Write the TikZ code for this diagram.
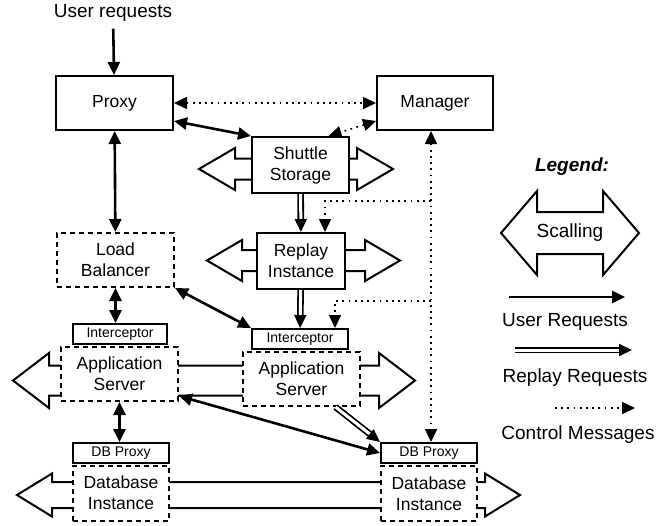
\documentclass[tikz,border=0pt]{standalone}
\usepackage{fontspec}
\setmainfont{Liberation Sans}
\usetikzlibrary{arrows.meta}
% scaling double arrow: left tip, right tip, centre y, head length, half shaft, half head
\newcommand{\scalearrow}[6]{%
  \draw[scaling] (#1,#3) -- ({#1+#4},{#3-#6}) -- ({#1+#4},{#3-#5})
    -- ({#2-#4},{#3-#5}) -- ({#2-#4},{#3-#6}) -- (#2,#3)
    -- ({#2-#4},{#3+#6}) -- ({#2-#4},{#3+#5}) -- ({#1+#4},{#3+#5})
    -- ({#1+#4},{#3+#6}) -- cycle;}
\begin{document}
\begin{tikzpicture}[x=0.5pt,y=-0.5pt,
    >={Triangle[length=6.5pt,width=6pt]},
    every node/.style={font=\fontsize{8.75}{10.5}\selectfont},
    box/.style={draw, fill=white, line width=1pt, inner sep=0pt, align=center},
    dbox/.style={box, dash pattern=on 2.5pt off 2pt},
    small/.style={box, minimum height=10pt, font=\fontsize{7}{8}\selectfont},
    legtxt/.style={font=\fontsize{9.5}{11}\selectfont},
    scaling/.style={draw, fill=white, line width=1pt, line join=miter},
    reqline/.style={line width=1.3pt},
    repline/.style={double, double distance=1.5pt, line width=0.9pt},
    ctrlline/.style={line width=0.8pt, dash pattern=on 0.9pt off 2.2pt}]
  \useasboundingbox (0,0) rectangle (672,525);
  % scaling arrows behind the boxes
  \scalearrow{199}{393}{169}{36}{10.5}{21}
  \scalearrow{207}{400}{260.5}{35}{10.5}{20.5}
  \scalearrow{13}{415}{380.5}{36}{15}{27.5}
  \scalearrow{17}{520}{495}{35}{13}{21.5}
  \scalearrow{501}{639}{233}{36}{21}{42}
  % components
  \node[legtxt] (user) at (113,13) {User requests};
  \node[box, minimum width=58.5pt, minimum height=27pt] (proxy) at (114.5,103) {Proxy};
  \node[box, minimum width=58pt, minimum height=27pt] (manager) at (435,103) {Manager};
  \node[box, minimum width=48.5pt, minimum height=28pt] (shuttle) at (300.5,165) {Shuttle\\Storage};
  \node[box, minimum width=44pt, minimum height=28pt] (replay) at (301,261) {Replay\\Instance};
  \node[dbox, minimum width=58.5pt, minimum height=27pt] (lb) at (115.5,260) {Load\\Balancer};
  \node[small, minimum width=47pt] (icpl) at (120,334) {Interceptor};
  \node[small, minimum width=48pt] (icpr) at (300,339) {Interceptor};
  \node[dbox, minimum width=58.5pt, minimum height=27pt] (appl) at (119.5,374) {Application\\Server};
  \node[dbox, minimum width=58.5pt, minimum height=27pt] (appr) at (301.5,379) {Application\\Server};
  \node[small, minimum width=48pt] (dbpl) at (121,453) {DB Proxy};
  \node[small, minimum width=48pt] (dbpr) at (429,453) {DB Proxy};
  \node[dbox, minimum width=48pt, minimum height=27.5pt] (dbl) at (121,493) {Database\\Instance};
  \node[dbox, minimum width=48pt, minimum height=27.5pt] (dbr) at (429,493.5) {Database\\Instance};
  % legend
  \node[font=\fontsize{9.5}{11}\selectfont\bfseries\itshape] (legend) at (572,167) {Legend:};
  \node[legtxt] (scal) at (570,233) {Scalling};
  \coordinate (ua) at (509,297);
  \coordinate (ub) at (625,297);
  \node[legtxt] (ureq) at (565,322) {User Requests};
  \coordinate (ra) at (515,350);
  \coordinate (rb) at (632,350);
  \node[legtxt] (rreq) at (575,378) {Replay Requests};
  \coordinate (ca) at (555,408);
  \coordinate (cb) at (635,408);
  \node[legtxt] (cmsg) at (578,435) {Control Messages};
  % user requests
  \draw[reqline,->] (user) -- (proxy);
  \draw[reqline,<->] ([yshift=-9pt]proxy.east) -- (shuttle.north west);
  \draw[reqline,<->] (proxy) -- (lb);
  \draw[reqline,<->] (lb.south east) -- (icpr.north west);
  \draw[reqline,<->] (lb.south) -- (lb.south |- icpl.north);
  \draw[reqline,<->] (appl.south) -- (appl.south |- dbpl.north);
  \draw[reqline,<->] ([yshift=3pt]appl.south east) -- (dbpr.west);
  % replay requests
  \draw[repline,->] (shuttle) -- (replay);
  \draw[repline,->] (replay) -- (icpr);
  \draw[repline,->] ([xshift=17pt]appr.south) -- (dbpr.north west);
  % control messages
  \coordinate (ctl1) at (431,201);
  \coordinate (ctl2) at (431,301);
  \draw[ctrlline,<->] (proxy) -- (manager);
  \draw[ctrlline,<->] ([yshift=-9pt]manager.west) -- ([xshift=14pt]shuttle.north);
  \draw[ctrlline,<->] (manager.south -| ctl1) -- (dbpr.north -| ctl1);
  \draw[ctrlline,->] (ctl1) -| ([xshift=12pt]replay.north);
  \draw[ctrlline,->] (ctl2) -| ([xshift=17.5pt]icpr.north);
  % legend arrows
  \draw[reqline,->] (ua) -- (ub);
  \draw[repline,->] (ra) -- (rb);
  \draw[ctrlline,->] (ca) -- (cb);
\end{tikzpicture}
\end{document}
